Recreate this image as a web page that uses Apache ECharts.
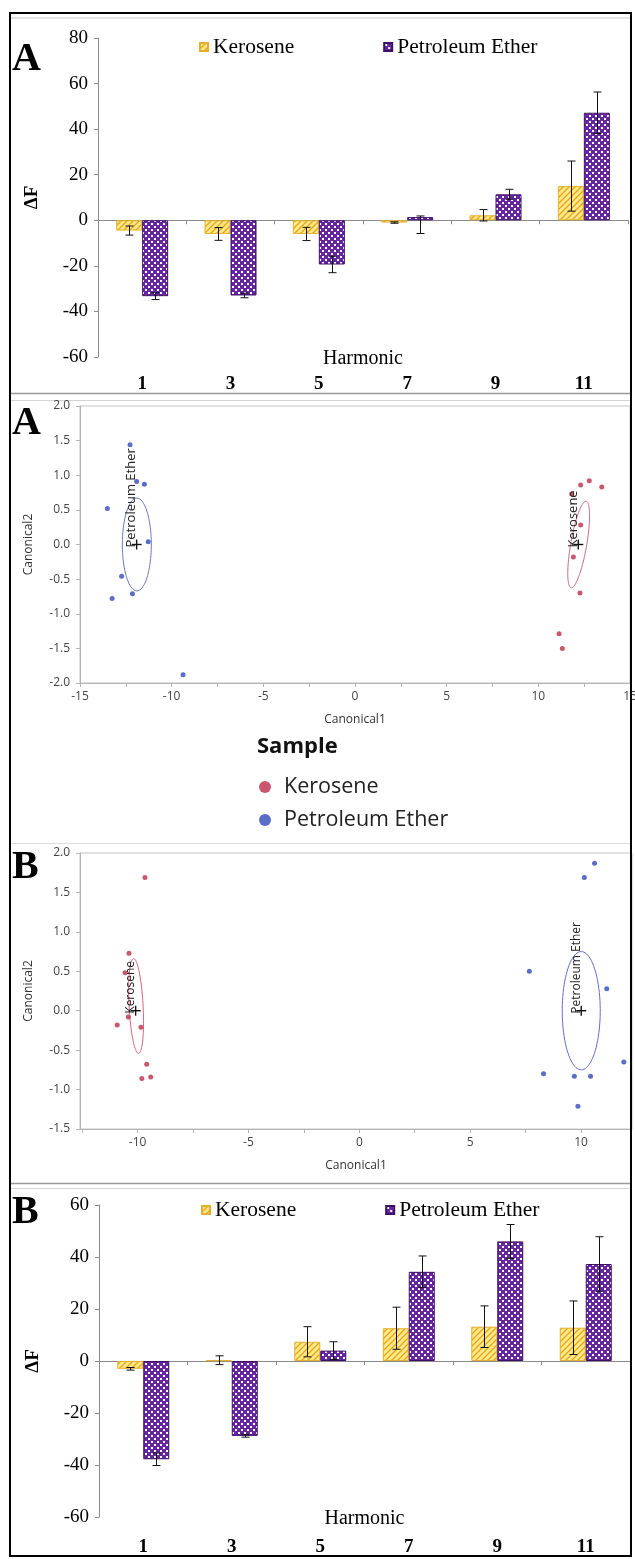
<!DOCTYPE html>
<html><head><meta charset="utf-8">
<script src="https://cdn.jsdelivr.net/npm/echarts@6/dist/echarts.min.js"></script>
<style>html,body{margin:0;padding:0;background:#fff}#c{width:635px;height:1559px}</style>
</head><body><div id="c"></div>
<script>
// ---------- data ----------
const harmonics = ['1', '3', '5', '7', '9', '11'];
const seriesNames = ['Kerosene', 'Petroleum Ether'];

// Panel A (bar)
const keroseneA = [-4.5, -6, -6, -1, 2.2, 15];
const keroseneAErrUp = [2, 2.8, 2.9, 0.3, 2.5, 11];
const keroseneAErrDown = [2, 2.8, 2.9, 0.3, 2.5, 11];
const petroleumA = [-33.3, -33, -19.4, 1.4, 11.4, 47.2];
const petroleumAErrUp = [1.5, 1, 3.6, 0.5, 2.2, 9.1];
const petroleumAErrDown = [1.5, 1, 3.6, 7.2, 2.2, 9.1];

// Panel B (bar)
const keroseneB = [-3, 0.3, 7.4, 12.6, 13.2, 12.8];
const keroseneBErrUp = [0.5, 1.7, 5.8, 8.1, 8, 10.3];
const keroseneBErrDown = [0.5, 1.7, 5.8, 8.1, 8, 10.3];
const petroleumB = [-37.8, -28.8, 4.0, 34.3, 46.0, 37.3];
const petroleumBErrUp = [2.4, 0.5, 3.4, 6.1, 6.5, 10.5];
const petroleumBErrDown = [2.4, 0.5, 3.4, 6.1, 6.5, 10.5];

const barYTicksA = [-60, 80, 20];   // min, max, step
const barYTicksB = [-60, 60, 20];

// Canonical plot A
const canonAKerosene = [[12.31,0.86],[12.78,0.92],[13.46,0.83],[11.82,0.73],[12.31,0.28],[11.91,-0.18],[12.27,-0.70],[11.13,-1.29],[11.31,-1.50]];
const canonAPetroleum = [[-12.27,1.44],[-11.91,0.91],[-11.49,0.87],[-13.51,0.52],[-11.28,0.04],[-12.73,-0.46],[-13.25,-0.78],[-12.14,-0.71],[-9.38,-1.88]];
const canonACentroids = [[12.18, 0], [-11.91, 0]];          // Kerosene, Petroleum Ether
const canonAEllipses = [[12.2, 0, 0.41, 0.625, 0.43, -0.02], [-11.9, 0, 0, 0.67, 0.79, 0]]; // cx, cy, u, v
const canonAXLabels = [-15, -10, -5, 0, 5, 10, 15];
const canonAXTicks = [-15, -12.5, -10, -7.5, -5, -2.5, 0, 2.5, 5, 7.5, 10, 12.5, 15];

// Canonical plot B
const canonBKerosene = [[-9.67,1.69],[-10.39,0.73],[-10.57,0.48],[-10.42,-0.08],[-10.92,-0.18],[-9.85,-0.21],[-9.59,-0.68],[-9.81,-0.86],[-9.41,-0.84]];
const canonBPetroleum = [[10.61,1.87],[10.15,1.69],[7.67,0.50],[11.16,0.28],[11.93,-0.65],[8.31,-0.80],[9.70,-0.83],[10.43,-0.83],[9.86,-1.21]];
const canonBCentroids = [[-10.09, 0], [10.01, 0]];
const canonBEllipses = [[-10.07, 0.06, -0.113, 0.602, 0.316, 0.005], [10.01, 0, 0, 0.75, 0.857, 0]];
const canonBXLabels = [-10, -5, 0, 5, 10];
const canonBXTicks = [-12.5, -10, -7.5, -5, -2.5, 0, 2.5, 5, 7.5, 10];

// ---------- styles ----------
const SERIF = '"Liberation Serif","Times New Roman",serif';
const SANS = '"Open Sans","Noto Sans",sans-serif';
const BAR_W = 26;
const AXIS_GRAY = '#8a8a8a';
const RED_DOT = '#BC2E4A', BLUE_DOT = '#3148BC';

function hatchPattern() {
  const c = document.createElement('canvas'); c.width = c.height = 6;
  const g = c.getContext('2d');
  g.fillStyle = '#FFE98E'; g.fillRect(0, 0, 6, 6);
  g.strokeStyle = '#E9A50E'; g.lineWidth = 1.3;
  g.beginPath();
  g.moveTo(0, 6); g.lineTo(6, 0);
  g.moveTo(-1, 1); g.lineTo(1, -1);
  g.moveTo(5, 7); g.lineTo(7, 5);
  g.stroke();
  return c;
}
function checkerPattern() {
  const c = document.createElement('canvas'); c.width = c.height = 6;
  const g = c.getContext('2d');
  g.fillStyle = '#6526A0'; g.fillRect(0, 0, 6, 6);
  g.fillStyle = '#ffffff';
  g.fillRect(1, 1, 2, 2); g.fillRect(4, 4, 2, 2);
  return c;
}
const kFill = { image: hatchPattern(), repeat: 'repeat' };
const pFill = { image: checkerPattern(), repeat: 'repeat' };

function errorSeries(xi, yi, vals, up, down, side) {
  return {
    type: 'custom', xAxisIndex: xi, yAxisIndex: yi, z: 6, silent: true,
    data: vals.map((v, i) => [i, v, v + up[i], v - down[i]]),
    encode: { x: 0, y: [1, 2, 3] },
    renderItem(params, api) {
      const i = api.value(0);
      const c = api.coord([i, api.value(1)]);
      const t = api.coord([i, api.value(2)]);
      const b = api.coord([i, api.value(3)]);
      const x = Math.round(c[0] + side * BAR_W / 2) + 0.5;
      const cap = 4;
      const st = { stroke: '#111', lineWidth: 1 };
      return { type: 'group', children: [
        { type: 'line', shape: { x1: x, y1: t[1], x2: x, y2: b[1] }, style: st },
        { type: 'line', shape: { x1: x - cap, y1: t[1], x2: x + cap, y2: t[1] }, style: st },
        { type: 'line', shape: { x1: x - cap, y1: b[1], x2: x + cap, y2: b[1] }, style: st }
      ] };
    }
  };
}
function ellipseSeries(xi, yi, ells, colors) {
  return {
    type: 'custom', xAxisIndex: xi, yAxisIndex: yi, z: 3, silent: true,
    data: ells, encode: { x: 0, y: 1 },
    renderItem(params, api) {
      const cx = api.value(0), cy = api.value(1), ux = api.value(2), uy = api.value(3), vx = api.value(4), vy = api.value(5);
      const pts = [];
      for (let k = 0; k <= 90; k++) {
        const a = k / 90 * Math.PI * 2;
        pts.push(api.coord([cx + ux * Math.cos(a) + vx * Math.sin(a), cy + uy * Math.cos(a) + vy * Math.sin(a)]));
      }
      return { type: 'polyline', shape: { points: pts }, style: { stroke: colors[params.dataIndex], fill: null, lineWidth: 1 } };
    }
  };
}
function centroidSeries(xi, yi, pts, names, fontSize) {
  return {
    type: 'custom', xAxisIndex: xi, yAxisIndex: yi, z: 5, silent: true,
    data: pts, encode: { x: 0, y: 1 },
    renderItem(params, api) {
      const c = api.coord([api.value(0), api.value(1)]);
      const s = 5, st = { stroke: '#111', lineWidth: 1.4 };
      return { type: 'group', children: [
        { type: 'line', shape: { x1: c[0] - s, y1: c[1], x2: c[0] + s, y2: c[1] }, style: st },
        { type: 'line', shape: { x1: c[0], y1: c[1] - s, x2: c[0], y2: c[1] + s }, style: st },
        { type: 'text', x: c[0] + 1, y: c[1] + 3, rotation: Math.PI / 2,
          style: { text: names[params.dataIndex], font: fontSize + 'px ' + SANS, fill: '#222', align: 'left', verticalAlign: 'bottom' } }
      ] };
    }
  };
}

function barYAxis(grid, t) {
  return {
    type: 'value', gridIndex: grid, min: t[0], max: t[1], interval: t[2],
    axisLine: { show: true, lineStyle: { color: AXIS_GRAY } },
    axisTick: { show: true, length: 4, lineStyle: { color: AXIS_GRAY } },
    axisLabel: { fontFamily: SERIF, fontSize: 19, color: '#000', margin: 10 },
    splitLine: { show: false },
    name: 'ΔF', nameLocation: 'middle', nameGap: 56, nameRotate: 90, nameMoveOverlap: false,
    nameTextStyle: { fontFamily: SERIF, fontSize: 19, fontWeight: 'bold', color: '#000' }
  };
}
function barXLabelAxis(grid, margin) {
  return {
    type: 'category', gridIndex: grid, data: harmonics, position: 'bottom',
    axisLine: { show: false, onZero: false }, axisTick: { show: false },
    axisLabel: { fontFamily: SERIF, fontSize: 19, fontWeight: 'bold', color: '#000', margin: margin },
    name: 'Harmonic', nameLocation: 'middle', nameGap: 2, nameMoveOverlap: false,
    nameTextStyle: { fontFamily: SERIF, fontSize: 20, color: '#000', verticalAlign: 'middle' }
  };
}
function barXZeroAxis(grid) {
  return {
    type: 'category', gridIndex: grid, data: harmonics, position: 'bottom',
    axisLine: { show: true, onZero: true, lineStyle: { color: AXIS_GRAY } },
    axisTick: { show: true, length: 4, lineStyle: { color: AXIS_GRAY } },
    axisLabel: { show: false }
  };
}
function canonXAxis(grid, min, max, labels, ticks) {
  return {
    type: 'value', gridIndex: grid, min: min, max: max,
    axisLine: { show: true, onZero: false, lineStyle: { color: '#b4b4b4' } },
    axisTick: { show: true, length: 4, customValues: ticks, lineStyle: { color: '#b4b4b4' } },
    axisLabel: { customValues: labels, fontFamily: SANS, fontSize: 12, color: '#444', margin: 8, hideOverlap: false },
    splitLine: { show: false },
    name: 'Canonical1', nameLocation: 'middle', nameGap: 31, nameMoveOverlap: false,
    nameTextStyle: { fontFamily: SANS, fontSize: 12, color: '#333' }
  };
}
function canonYAxis(grid, min, max) {
  return {
    type: 'value', gridIndex: grid, min: min, max: max, interval: 0.5,
    axisLine: { show: true, onZero: false, lineStyle: { color: '#b4b4b4' } },
    axisTick: { show: true, length: 4, lineStyle: { color: '#b4b4b4' } },
    axisLabel: { fontFamily: SANS, fontSize: 12, color: '#444', margin: 10, formatter: v => v.toFixed(1) },
    splitLine: { show: false },
    name: 'Canonical2', nameLocation: 'middle', nameGap: 45, nameMoveOverlap: false,
    nameTextStyle: { fontFamily: SANS, fontSize: 12, color: '#333' }
  };
}
function barSeries(xi, yi, name, vals, fill, border) {
  return { type: 'bar', name: name, xAxisIndex: xi, yAxisIndex: yi, data: vals,
    barWidth: BAR_W, barGap: '0%', z: 4,
    itemStyle: { color: fill, borderColor: border, borderWidth: 1 } };
}
function dotSeries(xi, yi, name, pts, color) {
  return { type: 'scatter', name: name, xAxisIndex: xi, yAxisIndex: yi, data: pts,
    symbolSize: 5, itemStyle: { color: color }, z: 4 };
}

const chart = echarts.init(document.getElementById('c'), null, { renderer: 'canvas' });
const barLegend = (top, left) => ({
  top: top, left: left, itemWidth: 8, itemHeight: 8, itemGap: 89, icon: 'rect',
  selectedMode: false, data: seriesNames,
  textStyle: { fontFamily: SERIF, fontSize: 21.5, color: '#000' }
});

chart.setOption({
  animation: false,
  backgroundColor: '#fff',
  textStyle: { fontFamily: SANS },
  title: { text: 'Sample', left: 252, top: 731, textStyle: { fontFamily: SANS, fontSize: 22, fontWeight: 'bold', color: '#111' } },
  legend: [
    barLegend(31, 194),
    barLegend(1194, 196),
    { top: 771, left: 254, orient: 'vertical', itemWidth: 28, itemHeight: 12, itemGap: 11, icon: 'circle',
      selectedMode: false, data: ['Kerosene (canonical)', 'Petroleum Ether (canonical)'],
      formatter: n => n.replace(' (canonical)', ''),
      textStyle: { fontFamily: SANS, fontSize: 21.5, color: '#222', lineHeight: 22 } }
  ],
  grid: [
    { left: 98, top: 38, width: 530, height: 319, outerBoundsMode: 'none' },
    { left: 80, top: 406, width: 550, height: 277, show: true, borderColor: '#c4c4c4', borderWidth: 1, outerBoundsMode: 'none' },
    { left: 80, top: 853, width: 552, height: 276, show: true, borderColor: '#c4c4c4', borderWidth: 1, outerBoundsMode: 'none' },
    { left: 99, top: 1205, width: 531, height: 312, outerBoundsMode: 'none' }
  ],
  xAxis: [
    barXLabelAxis(0, 18),
    barXZeroAxis(0),
    canonXAxis(1, -15, 15, canonAXLabels, canonAXTicks),
    canonXAxis(2, -12.6, 12.3, canonBXLabels, canonBXTicks),
    barXLabelAxis(3, 21),
    barXZeroAxis(3)
  ],
  yAxis: [
    barYAxis(0, barYTicksA),
    canonYAxis(1, -2, 2),
    canonYAxis(2, -1.5, 2),
    barYAxis(3, barYTicksB)
  ],
  series: [
    barSeries(0, 0, 'Kerosene', keroseneA, kFill, '#E2B030'),
    barSeries(0, 0, 'Petroleum Ether', petroleumA, pFill, '#3C0F66'),
    errorSeries(0, 0, keroseneA, keroseneAErrUp, keroseneAErrDown, -1),
    errorSeries(0, 0, petroleumA, petroleumAErrUp, petroleumAErrDown, 1),

    ellipseSeries(2, 1, canonAEllipses, ['#C86A86', '#6C78C4']),
    dotSeries(2, 1, 'Kerosene (canonical)', canonAKerosene, RED_DOT),
    dotSeries(2, 1, 'Petroleum Ether (canonical)', canonAPetroleum, BLUE_DOT),
    centroidSeries(2, 1, canonACentroids, seriesNames, 13),

    ellipseSeries(3, 2, canonBEllipses, ['#E0607E', '#6070C8']),
    dotSeries(3, 2, 'Kerosene (canonical)', canonBKerosene, RED_DOT),
    dotSeries(3, 2, 'Petroleum Ether (canonical)', canonBPetroleum, BLUE_DOT),
    centroidSeries(3, 2, canonBCentroids, seriesNames, 12),

    barSeries(4, 3, 'Kerosene', keroseneB, kFill, '#E2B030'),
    barSeries(4, 3, 'Petroleum Ether', petroleumB, pFill, '#3C0F66'),
    errorSeries(4, 3, keroseneB, keroseneBErrUp, keroseneBErrDown, -1),
    errorSeries(4, 3, petroleumB, petroleumBErrUp, petroleumBErrDown, 1)
  ],
  graphic: [
    { type: 'line', shape: { x1: 11, y1: 18, x2: 631, y2: 18 }, style: { stroke: '#c8c8c8', lineWidth: 1 } },
    { type: 'line', shape: { x1: 11, y1: 393.5, x2: 631, y2: 393.5 }, style: { stroke: '#9a9a9a', lineWidth: 1.5 } },
    { type: 'line', shape: { x1: 11, y1: 400.5, x2: 631, y2: 400.5 }, style: { stroke: '#d4d4d4', lineWidth: 1 } },
    { type: 'line', shape: { x1: 11, y1: 843.5, x2: 631, y2: 843.5 }, style: { stroke: '#dcdcdc', lineWidth: 1 } },
    { type: 'line', shape: { x1: 11, y1: 1183.5, x2: 631, y2: 1183.5 }, style: { stroke: '#9a9a9a', lineWidth: 1.5 } },
    { type: 'line', shape: { x1: 11, y1: 1188.5, x2: 631, y2: 1188.5 }, style: { stroke: '#d4d4d4', lineWidth: 1 } },
    { type: 'rect', shape: { x: 10, y: 13, width: 621, height: 1543 }, style: { stroke: '#000', fill: null, lineWidth: 2 }, z: 100 },
    { type: 'text', x: 12, y: 60, style: { text: 'A', font: 'bold 40px ' + SERIF, fill: '#000', verticalAlign: 'middle' } },
    { type: 'text', x: 12, y: 424, style: { text: 'A', font: 'bold 40px ' + SERIF, fill: '#000', verticalAlign: 'middle' } },
    { type: 'text', x: 12, y: 868, style: { text: 'B', font: 'bold 40px ' + SERIF, fill: '#000', verticalAlign: 'middle' } },
    { type: 'text', x: 12, y: 1213, style: { text: 'B', font: 'bold 40px ' + SERIF, fill: '#000', verticalAlign: 'middle' } }
  ]
});
</script>
</body></html>
